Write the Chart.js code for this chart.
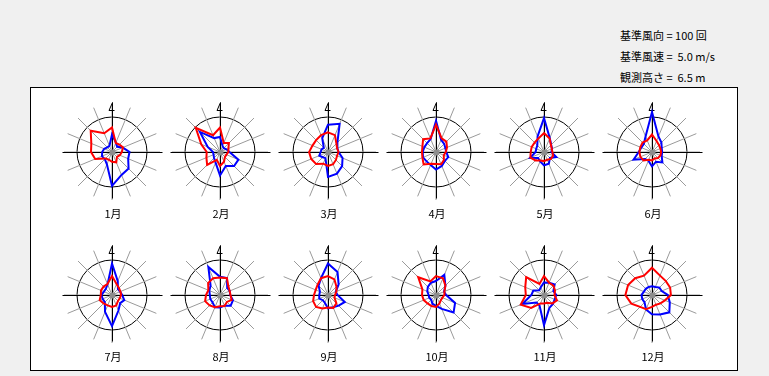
<!DOCTYPE html>
<html>
<head>
<meta charset="utf-8">
<script src="https://cdn.jsdelivr.net/npm/chart.js@4"></script>
<style>
  body { margin: 0; width: 769px; height: 376px; background: #f0f0f0; position: relative; overflow: hidden;
         font-family: "Noto Sans CJK JP", "DejaVu Sans", sans-serif; }
  .info { position: absolute; left: 620px; font-size: 11px; white-space: pre; color: #000; line-height: 12px; }
  #panel { position: absolute; left: 30px; top: 87px; width: 706px; height: 282px; background: #fff; border: 1px solid #000; }
  .rose { position: absolute; }
  .mlabel { position: absolute; width: 40px; text-align: center; font-size: 11px; line-height: 12px; color: #000; }
</style>
</head>
<body>
<div class="info" style="top:29px">基準風向 = 100 回</div>
<div class="info" style="top:50px">基準風速 =  5.0 m/s</div>
<div class="info" style="top:71px">観測高さ =  6.5 m</div>
<div id="panel"></div>

<script>
// 16 directions, clockwise from north
const directions = ['N', 'NNE', 'NE', 'ENE', 'E', 'ESE', 'SE', 'SSE', 'S', 'SSW', 'SW', 'WSW', 'W', 'WNW', 'NW', 'NNW'];
const months = ['1月', '2月', '3月', '4月', '5月', '6月', '7月', '8月', '9月', '10月', '11月', '12月'];

// wind direction counts (circle = 100 回)
const countJan = [50, 29, 21, 33, 50, 50, 67, 71, 97, 38, 29, 31, 28, 24, 19, 19];
const countFeb = [43, 19, 15, 20, 27, 57, 57, 43, 67, 33, 24, 20, 20, 38, 81, 43];
const countMar = [78, 87, 38, 29, 30, 45, 57, 67, 71, 19, 21, 27, 21, 20, 17, 43];
const countApr = [89, 38, 33, 29, 29, 38, 36, 43, 50, 40, 38, 40, 38, 36, 36, 40];
const countMay = [97, 43, 29, 25, 21, 38, 24, 36, 38, 29, 24, 43, 24, 24, 27, 48];
const countJun = [114, 48, 38, 30, 29, 30, 42, 30, 41, 27, 28, 57, 38, 33, 33, 48];
const countJul = [90, 43, 24, 25, 29, 38, 33, 48, 89, 52, 29, 29, 30, 25, 25, 33];
const countAug = [52, 52, 29, 30, 29, 40, 43, 33, 36, 38, 30, 30, 29, 33, 38, 87];
const countSep = [90, 71, 43, 24, 27, 52, 43, 38, 38, 24, 21, 27, 25, 25, 38, 52];
const countOct = [40, 62, 38, 25, 29, 59, 71, 43, 31, 27, 19, 21, 21, 27, 33, 38];
const countNov = [36, 38, 43, 29, 35, 33, 36, 40, 86, 33, 30, 67, 36, 33, 19, 24];
const countDec = [25, 25, 30, 30, 45, 55, 70, 60, 55, 45, 30, 30, 30, 25, 25, 25];

// mean wind speed per direction, m/s (circle = 5.0 m/s)
const speedJan = [3.5, 1.4, 1.5, 1.7, 1.4, 1.2, 1.0, 1.6, 1.4, 1.2, 1.3, 2.6, 3.0, 3.2, 4.3, 2.9];
const speedFeb = [3.5, 1.4, 1.8, 1.3, 1.2, 1.0, 1.0, 1.5, 2.0, 1.2, 2.6, 2.1, 1.9, 2.9, 4.9, 2.6];
const speedMar = [2.8, 2.6, 1.7, 1.4, 1.5, 1.4, 1.6, 1.9, 2.0, 1.8, 2.4, 2.6, 2.7, 2.4, 2.4, 2.6];
const speedApr = [3.9, 2.1, 2.1, 1.7, 1.4, 1.2, 1.6, 1.9, 1.7, 1.8, 2.5, 2.1, 2.0, 2.1, 2.6, 2.1];
const speedMay = [2.7, 2.1, 1.4, 1.2, 1.2, 1.4, 1.4, 1.2, 1.3, 1.3, 1.7, 2.1, 1.9, 1.9, 1.9, 2.1];
const speedJun = [2.5, 1.7, 1.4, 1.3, 1.3, 1.3, 1.2, 1.0, 1.2, 1.2, 1.7, 1.8, 1.8, 1.8, 1.9, 1.8];
const speedJul = [2.7, 1.7, 1.4, 1.3, 1.3, 1.2, 1.2, 1.6, 1.7, 1.6, 1.7, 1.9, 1.6, 1.7, 1.7, 1.7];
const speedAug = [2.5, 2.6, 1.7, 1.5, 1.5, 1.8, 1.4, 1.7, 1.6, 1.9, 2.1, 2.3, 2.0, 1.8, 2.4, 2.6];
const speedSep = [2.7, 2.4, 1.7, 1.3, 1.0, 1.0, 1.7, 2.0, 1.8, 2.1, 2.4, 2.3, 2.0, 1.9, 2.1, 2.6];
const speedOct = [2.7, 2.6, 1.9, 1.3, 1.2, 1.0, 1.0, 1.3, 1.7, 1.7, 1.7, 1.9, 2.0, 2.1, 3.6, 2.1];
const speedNov = [2.7, 1.9, 1.9, 1.7, 1.5, 2.0, 1.7, 1.2, 1.2, 1.3, 2.6, 3.6, 2.6, 2.9, 3.6, 1.7];
const speedDec = [3.9, 3.0, 2.8, 2.8, 2.7, 2.0, 1.7, 1.5, 1.7, 2.2, 2.4, 3.2, 3.8, 3.7, 3.4, 3.0];

const counts = [countJan, countFeb, countMar, countApr, countMay, countJun, countJul, countAug, countSep, countOct, countNov, countDec];
const speeds = [speedJan, speedFeb, speedMar, speedApr, speedMay, speedJun, speedJul, speedAug, speedSep, speedOct, speedNov, speedDec];

const REF_COUNT = 100;   // 基準風向
const REF_SPEED = 5.0;   // 基準風速

// layout of the 12 roses
const colX = [112, 220, 328, 436, 544, 652];
const rowY = [152, 295];
const HALF = 60;            // canvas half size
const OUTER = 48;           // spoke length in px
const CIRCLE = 35;          // reference circle radius in px

// axes cross, north mark and centre dot
const rosePlugin = {
    id: 'rose',
    beforeDatasetsDraw(chart) {
        const r = chart.scales.r;
        const ctx = chart.ctx;
        const x = r.xCenter + 0.5, y = r.yCenter + 0.5;
        ctx.save();
        ctx.strokeStyle = '#000';
        ctx.lineWidth = 1;
        ctx.beginPath();
        ctx.moveTo(x - 50, y); ctx.lineTo(x + 50, y);
        ctx.moveTo(x, y - 50); ctx.lineTo(x, y + 46);
        // north mark
        ctx.moveTo(x, y - 50); ctx.lineTo(x - 3.5, y - 42); ctx.lineTo(x + 2, y - 42);
        ctx.stroke();
        ctx.restore();
    },
    afterDatasetsDraw(chart) {
        const r = chart.scales.r;
        const ctx = chart.ctx;
        ctx.save();
        ctx.fillStyle = '#8c8c8c';
        ctx.beginPath();
        ctx.arc(r.xCenter + 0.5, r.yCenter + 0.5, 3, 0, Math.PI * 2);
        ctx.fill();
        ctx.restore();
    }
};

months.forEach(function (m, i) {
    const cx = colX[i % 6], cy = rowY[Math.floor(i / 6)];
    const canvas = document.createElement('canvas');
    canvas.className = 'rose';
    canvas.width = HALF * 2;
    canvas.height = HALF * 2;
    canvas.style.left = (cx - HALF) + 'px';
    canvas.style.top = (cy - HALF) + 'px';
    document.body.appendChild(canvas);

    const lbl = document.createElement('div');
    lbl.className = 'mlabel';
    lbl.textContent = m;
    lbl.style.left = (cx - 20 + 1) + 'px';
    lbl.style.top = (cy + 55) + 'px';
    document.body.appendChild(lbl);

    new Chart(canvas.getContext('2d'), {
        type: 'radar',
        data: {
            labels: directions,
            datasets: [
                {
                    label: '風速',
                    data: speeds[i].map(v => v / REF_SPEED * REF_COUNT),
                    borderColor: '#ff0000',
                    borderWidth: 2,
                    fill: false
                },
                {
                    label: '風向',
                    data: counts[i],
                    borderColor: '#0000ff',
                    borderWidth: 2,
                    fill: false
                }
            ]
        },
        options: {
            responsive: false,
            animation: false,
            devicePixelRatio: 1,
            layout: { padding: HALF - OUTER },
            elements: { point: { radius: 0, hoverRadius: 0 }, line: { tension: 0 } },
            plugins: { legend: { display: false }, tooltip: { enabled: false } },
            scales: {
                r: {
                    min: 0,
                    max: REF_COUNT * OUTER / CIRCLE,
                    ticks: { display: false, stepSize: REF_COUNT },
                    pointLabels: { display: false },
                    grid: {
                        circular: true,
                        color: ctx => ctx.tick && ctx.tick.value === REF_COUNT ? '#000' : 'rgba(0,0,0,0)',
                        lineWidth: 1
                    },
                    angleLines: { color: '#9a9a9a', lineWidth: 1 }
                }
            }
        },
        plugins: [rosePlugin]
    });
});
</script>
</body>
</html>
